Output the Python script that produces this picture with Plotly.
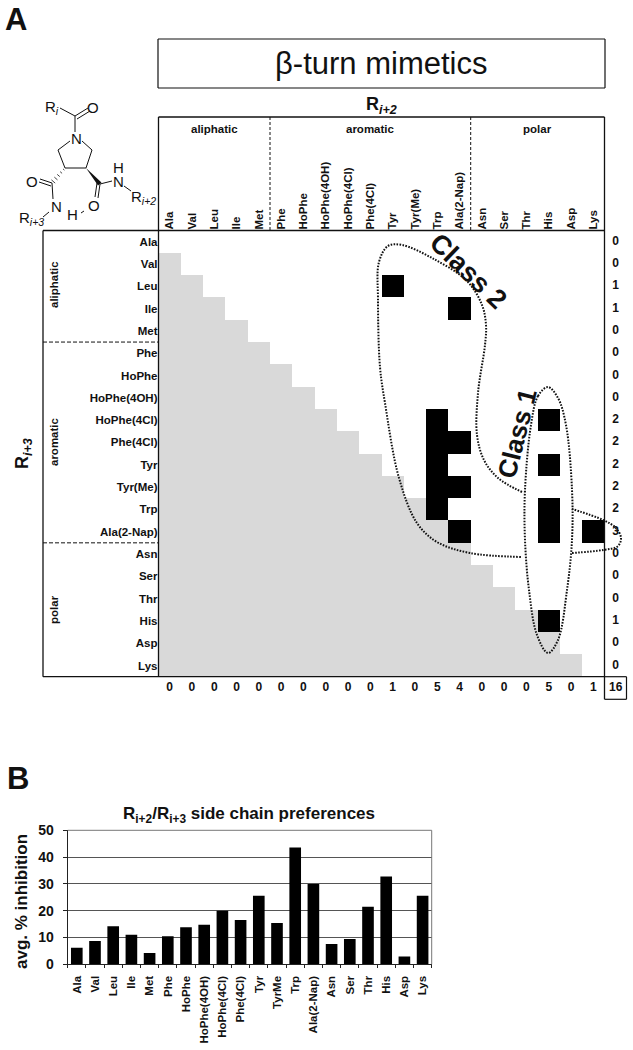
import plotly.graph_objects as go

W, H = 633, 1050
FONT = "Liberation Sans"

residues = ["Ala", "Val", "Leu", "Ile", "Met", "Phe", "HoPhe", "HoPhe(4OH)", "HoPhe(4Cl)", "Phe(4Cl)",
            "Tyr", "Tyr(Me)", "Trp", "Ala(2-Nap)", "Asn", "Ser", "Thr", "His", "Asp", "Lys"]
shaded_cols_per_row = [0, 1, 2, 3, 4, 5, 6, 7, 8, 9, 10, 11, 12, 13, 14, 15, 16, 17, 18, 19]
hits = {
    "Leu": ["Tyr"],
    "Ile": ["Ala(2-Nap)"],
    "HoPhe(4Cl)": ["Trp", "His"],
    "Phe(4Cl)": ["Trp", "Ala(2-Nap)"],
    "Tyr": ["Trp", "His"],
    "Tyr(Me)": ["Trp", "Ala(2-Nap)"],
    "Trp": ["Trp", "His"],
    "Ala(2-Nap)": ["Ala(2-Nap)", "His", "Lys"],
    "His": ["His"],
}
row_totals = [0, 0, 1, 1, 0, 0, 0, 0, 2, 2, 2, 2, 2, 3, 0, 0, 0, 1, 0, 0]
col_totals = [0, 0, 0, 0, 0, 0, 0, 0, 0, 0, 1, 0, 5, 4, 0, 0, 0, 5, 0, 1]
grand_total = 16

bar_labels = ["Ala", "Val", "Leu", "Ile", "Met", "Phe", "HoPhe", "HoPhe(4OH)", "HoPhe(4Cl)", "Phe(4Cl)",
              "Tyr", "TyrMe", "Trp", "Ala(2-Nap)", "Asn", "Ser", "Thr", "His", "Asp", "Lys"]
avg_inhibition = [6.2, 8.7, 14.2, 11.0, 4.2, 10.5, 13.8, 14.8, 20.0, 16.5,
                  25.6, 15.4, 43.6, 30.0, 7.6, 9.4, 21.5, 32.8, 2.9, 25.6]

# Heatmap matrix: 0 white, 1 grey, 2 black
z = []
for r, name in enumerate(residues):
    row = [1 if c < shaded_cols_per_row[r] else 0 for c in range(len(residues))]
    for col in hits.get(name, []):
        row[residues.index(col)] = 2
    z.append(row)

# Pixel geometry of the panels
GX0, GX1, GY0, GY1 = 158.5, 604.5, 230.5, 676.7
BX0, BX1, BY0, BY1 = 67.7, 431.7, 830.3, 964.3
CW, CH = (GX1 - GX0) / 20, (GY1 - GY0) / 20

fig = go.Figure()
n = len(residues)
fig.add_trace(go.Heatmap(z=z, x=list(range(n)), y=list(range(n)), xaxis="x", yaxis="y",
                         colorscale=[[0, "#ffffff"], [0.5, "#d9d9d9"], [1, "#000000"]],
                         zmin=0, zmax=2, showscale=False, hoverinfo="skip"))
fig.add_trace(go.Bar(x=bar_labels, y=avg_inhibition, marker=dict(color="#000000", line=dict(width=0)),
                     xaxis="x2", yaxis="y2", hoverinfo="skip", showlegend=False))


def curve(pts, dash="1.6px,1.4px", width=2.0, shape="spline"):
    fig.add_trace(go.Scatter(x=[p[0] for p in pts], y=[p[1] for p in pts], mode="lines",
                             line=dict(color="#111", width=width, dash=dash, shape=shape, smoothing=1.0),
                             xaxis="x3", yaxis="y3", hoverinfo="skip", showlegend=False))


# Class outlines
curve([(522, 492), (498, 478), (484, 460), (477, 435), (478, 393), (485, 345), (486, 325), (482, 305),
       (467, 281), (432, 258), (402, 245), (388, 246), (379, 262), (378, 300), (380, 367), (385, 403),
       (399, 478), (417, 523), (437, 542), (470, 553), (522, 557)])
curve([(572, 553), (603, 550), (618, 546), (621, 538), (616, 528), (603, 520), (572, 509)])
curve([(548, 387), (538, 396), (531, 425), (525, 490), (525, 540), (529, 590), (537, 635), (548, 653),
       (558, 640), (567, 590), (572, 540), (572, 490), (566, 425), (558, 398), (548, 387)])

# Totals: an extra axis pair with the same scale as the grid, extended by one cell
fig.add_trace(go.Scatter(x=[20] * n, y=list(range(n)), text=[str(v) for v in row_totals], mode="text",
                         textfont=dict(family=FONT, size=12, color="#111", weight="bold"), xaxis="x4", yaxis="y4",
                         cliponaxis=False, hoverinfo="skip", showlegend=False))
fig.add_trace(go.Scatter(x=list(range(n)) + [20], y=[20] * (n + 1),
                         text=[str(v) for v in col_totals] + [str(grand_total)], mode="text",
                         textfont=dict(family=FONT, size=12, color="#111", weight="bold"), xaxis="x4", yaxis="y4",
                         cliponaxis=False, hoverinfo="skip", showlegend=False))


def seg(x0, y0, x1, y1, w=1.0, dash=None, color="#111"):
    return dict(type="line", xref="x3", yref="y3", x0=x0, y0=y0, x1=x1, y1=y1,
                line=dict(color=color, width=w, dash=dash or "solid"), layer="above")


shapes = [
    # title box
    seg(158, 39, 605, 39, 1.2), seg(158, 88, 605, 88, 1.2), seg(158, 39, 158, 88, 1.2), seg(605, 39, 605, 88, 1.2),
    # table frame
    seg(158.5, 117, 604.5, 117, 1.3), seg(158.5, 117, 158.5, GY1, 1.3), seg(604.5, 117, 604.5, 699.3, 1.3),
    seg(43, GY0, 604.5, GY0, 1.3), seg(43, GY1, 604.5, GY1, 1.3), seg(43, GY0, 43, GY1, 1.3),
    # group dividers
    seg(GX0 + 5 * CW, 117, GX0 + 5 * CW, GY0, 1, "3px,2px"), seg(GX0 + 14 * CW, 117, GX0 + 14 * CW, GY0, 1, "3px,2px"),
    seg(43, GY0 + 5 * CH, GX0, GY0 + 5 * CH, 1, "4px,2px"), seg(43, GY0 + 14 * CH, GX0, GY0 + 14 * CH, 1, "4px,2px"),
    # total box
    seg(604.5, 699.3, 626.5, 699.3, 1.2), seg(626.5, 676.7, 626.5, 699.3, 1.2), seg(604.5, 676.7, 626.5, 676.7, 1.2),
    # panel B frame
    seg(BX0, BY0, BX1, BY0, 1, color="#777"), seg(BX1, BY0, BX1, BY1, 1, color="#777"),
]

# Chemical structure
for b in [(60, 108, 75, 116), (75, 116, 88, 108), (77, 119, 90, 111), (75, 116, 75, 132), (70, 141, 58, 150),
          (82, 141, 92, 150), (58, 150, 65, 168), (92, 150, 86, 168), (65, 168, 86, 168),
          (52, 183, 40, 179), (51, 186, 39, 182), (52, 183, 53, 199), (49, 212, 43, 217),
          (100, 184, 98, 198), (97, 183, 95, 197), (100, 184, 112, 181), (124, 186, 131, 191),
          (81, 213, 84, 211)]:
    shapes.append(seg(*b, 1.0))
for i in range(5):  # hashed bond
    t = (i + 0.5) / 5
    cx, cy = 65 - 13 * t, 168 + 15 * t
    d = 0.7 + 2.0 * t
    shapes.append(seg(cx - d * 0.75, cy - d * 0.65, cx + d * 0.75, cy + d * 0.65, 0.8))
shapes.append(dict(type="path", xref="x3", yref="y3", layer="above", path="M 86 168 L 98 185.5 L 101.5 182.5 Z",
                   fillcolor="#111", line=dict(width=0)))


def label(x, y, text, size, bold=True, angle=0, color="#111", anchor="center"):
    t = f"<b>{text}</b>" if bold else text
    return dict(xref="x3", yref="y3", x=x, y=y, text=t, showarrow=False, textangle=angle, xanchor=anchor,
                yanchor="middle", font=dict(family=FONT, size=size, color=color), align="center")


annotations = [
    label(16, 19, "A", 31), label(18, 778, "B", 31),
    label(381, 63, "β-turn mimetics", 31, bold=False),
    label(381, 105, "R<sub><i>i+2</i></sub>", 18),
    label(23, 454, "R<sub><i>i+3</i></sub>", 18, angle=-90),
    label(214, 129, "aliphatic", 11.5), label(370, 129, "aromatic", 11.5), label(537, 129, "polar", 11.5),
    label(54, 285, "aliphatic", 11.5, angle=-90), label(54, 442, "aromatic", 11.5, angle=-90),
    label(54, 610, "polar", 11.5, angle=-90),
    label(468, 271, "Class 2", 27, angle=44), label(517, 434, "Class 1", 26, angle=-76),
    label(249, 815, "R<sub>i+2</sub>/R<sub>i+3</sub> side chain preferences", 17),
    label(21, 902, "avg. % inhibition", 17, angle=-90),
    # structure atoms
    label(52, 107, "R<sub><i>i</i></sub>", 15, bold=False), label(93, 107, "O", 15, bold=False),
    label(76, 138, "N", 15, bold=False), label(32, 181, "O", 15, bold=False),
    label(56, 206, "N", 15, bold=False), label(31, 218, "R<sub><i>i+3</i></sub>", 15, bold=False),
    label(72, 214, "H", 15, bold=False), label(94, 205, "O", 15, bold=False),
    label(118, 181, "N", 15, bold=False), label(118, 167, "H", 15, bold=False),
    label(143, 197, "R<sub><i>i+2</i></sub>", 15, bold=False),
]

tick_bold = dict(family=FONT, size=11.5, color="#111", weight="bold")
fig.update_layout(
    template="none",
    width=W, height=H, margin=dict(l=0, r=0, t=0, b=0, pad=0), paper_bgcolor="white", plot_bgcolor="rgba(0,0,0,0)",
    showlegend=False, bargap=0.36, shapes=shapes, annotations=annotations,
    xaxis=dict(domain=[GX0 / W, GX1 / W], range=[-0.5, 19.5], side="top", anchor="y", tickmode="array",
               tickvals=list(range(n)), ticktext=residues, tickangle=-90, tickfont=tick_bold, ticks="",
               showgrid=False, zeroline=False, showline=False, automargin=False),
    yaxis=dict(domain=[1 - GY1 / H, 1 - GY0 / H], range=[19.5, -0.5], anchor="x", tickmode="array",
               tickvals=list(range(n)), ticktext=residues, tickfont=tick_bold, ticks="",
               showgrid=False, zeroline=False, showline=False, automargin=False),
    xaxis2=dict(domain=[BX0 / W, BX1 / W], anchor="y2", type="category", tickangle=-90,
                tickfont=tick_bold, ticks="outside", ticklen=3, tickcolor="#222", ticklabelstandoff=6,
                tickson="boundaries", showline=True, linecolor="#222", linewidth=1, showgrid=False, zeroline=False,
                automargin=False),
    yaxis2=dict(domain=[1 - BY1 / H, 1 - BY0 / H], anchor="x2", range=[0, 50], tickvals=[0, 10, 20, 30, 40, 50],
                tickfont=dict(family=FONT, size=14, color="#111", weight="bold"), ticks="outside", ticklen=4,
                tickcolor="#222", showline=True, linecolor="#222", linewidth=1, showgrid=True, gridcolor="#555",
                gridwidth=1, zeroline=False, automargin=False, ticklabelstandoff=6),
    xaxis3=dict(domain=[0, 1], range=[0, W], anchor="y3", visible=False, fixedrange=True, automargin=False),
    yaxis3=dict(domain=[0, 1], range=[H, 0], anchor="x3", visible=False, fixedrange=True, automargin=False),
    xaxis4=dict(domain=[GX0 / W, (GX0 + 21 * CW) / W], range=[-0.5, 20.5], anchor="y4", visible=False,
                fixedrange=True, automargin=False),
    yaxis4=dict(domain=[1 - (GY0 + 21 * CH) / H, 1 - GY0 / H], range=[20.5, -0.5], anchor="x4", visible=False,
                fixedrange=True, automargin=False),
)
fig.write_html("out.html", config={"displayModeBar": False},
               post_script="document.body.style.margin='0';document.body.style.overflow='hidden';")
